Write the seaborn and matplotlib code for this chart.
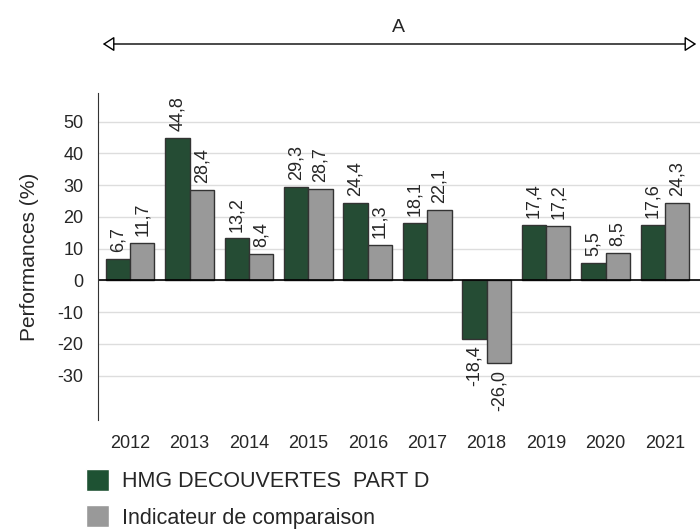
import matplotlib
matplotlib.use("Agg")
import matplotlib.pyplot as plt
import seaborn as sns
import pandas as pd

years = ["2012", "2013", "2014", "2015", "2016", "2017", "2018", "2019", "2020", "2021"]
fund = [6.7, 44.8, 13.2, 29.3, 24.4, 18.1, -18.4, 17.4, 5.5, 17.6]
bench = [11.7, 28.4, 8.4, 28.7, 11.3, 22.1, -26.0, 17.2, 8.5, 24.3]
series = ["HMG DECOUVERTES  PART D", "Indicateur de comparaison"]
colors = ["#1e5233", "#999999"]

df = pd.DataFrame({
    "year": years * 2,
    "value": fund + bench,
    "serie": [series[0]] * len(years) + [series[1]] * len(years),
})

sns.set_style("white")
plt.rcParams["font.family"] = ["Liberation Sans", "DejaVu Sans"]
plt.rcParams["axes.unicode_minus"] = False

fig = plt.figure(figsize=(7, 5.29), dpi=100)
ax = fig.add_axes([0.14, 0.206, 0.86, 0.618])

sns.barplot(data=df, x="year", y="value", hue="serie", palette=colors,
            width=0.82, edgecolor="#333333", linewidth=1, ax=ax, legend=False)

for cont in ax.containers:
    labels = [f"{v:.1f}".replace(".", ",") for v in cont.datavalues]
    ax.bar_label(cont, labels=labels, rotation=90, padding=5, fontsize=13)

ax.set_ylim(-44, 59)
ax.set_xlim(-0.54, 9.59)
ax.set_yticks(range(-30, 60, 10))
ax.yaxis.grid(True, color="#dddddd", linewidth=1)
ax.set_axisbelow(True)
ax.axhline(0, color="black", linewidth=1.2)
for s in ["top", "right", "bottom"]:
    ax.spines[s].set_visible(False)
ax.spines["left"].set_color("#333333")
ax.tick_params(axis="y", length=3.5, width=1, color="#333333", labelsize=13, pad=7)
ax.tick_params(axis="x", length=0, labelsize=13, pad=11)
ax.set_xlabel("")
ax.set_ylabel("Performances (%)", fontsize=15, labelpad=13)

# arrow over the period
fig.patches.append(matplotlib.patches.FancyArrowPatch(
    (100 / 700, 1 - 44 / 529), (699 / 700, 1 - 44 / 529), transform=fig.transFigure,
    arrowstyle="<|-|>,head_length=7,head_width=4.5", mutation_scale=1,
    facecolor="white", edgecolor="black", linewidth=1))
fig.text(398 / 700, 1 - 27 / 529, "A", ha="center", va="center", fontsize=14)

handles = [matplotlib.patches.Patch(facecolor=c) for c in colors]
fig.legend(handles, series, loc="upper left", bbox_to_anchor=(86 / 700, 1 - 469 / 529),
           frameon=False, fontsize=15.5, handlelength=1.05, handleheight=1.2,
           handletextpad=0.6, labelspacing=0.6, borderaxespad=0, borderpad=0)

fig.savefig("out.png", dpi=100)
